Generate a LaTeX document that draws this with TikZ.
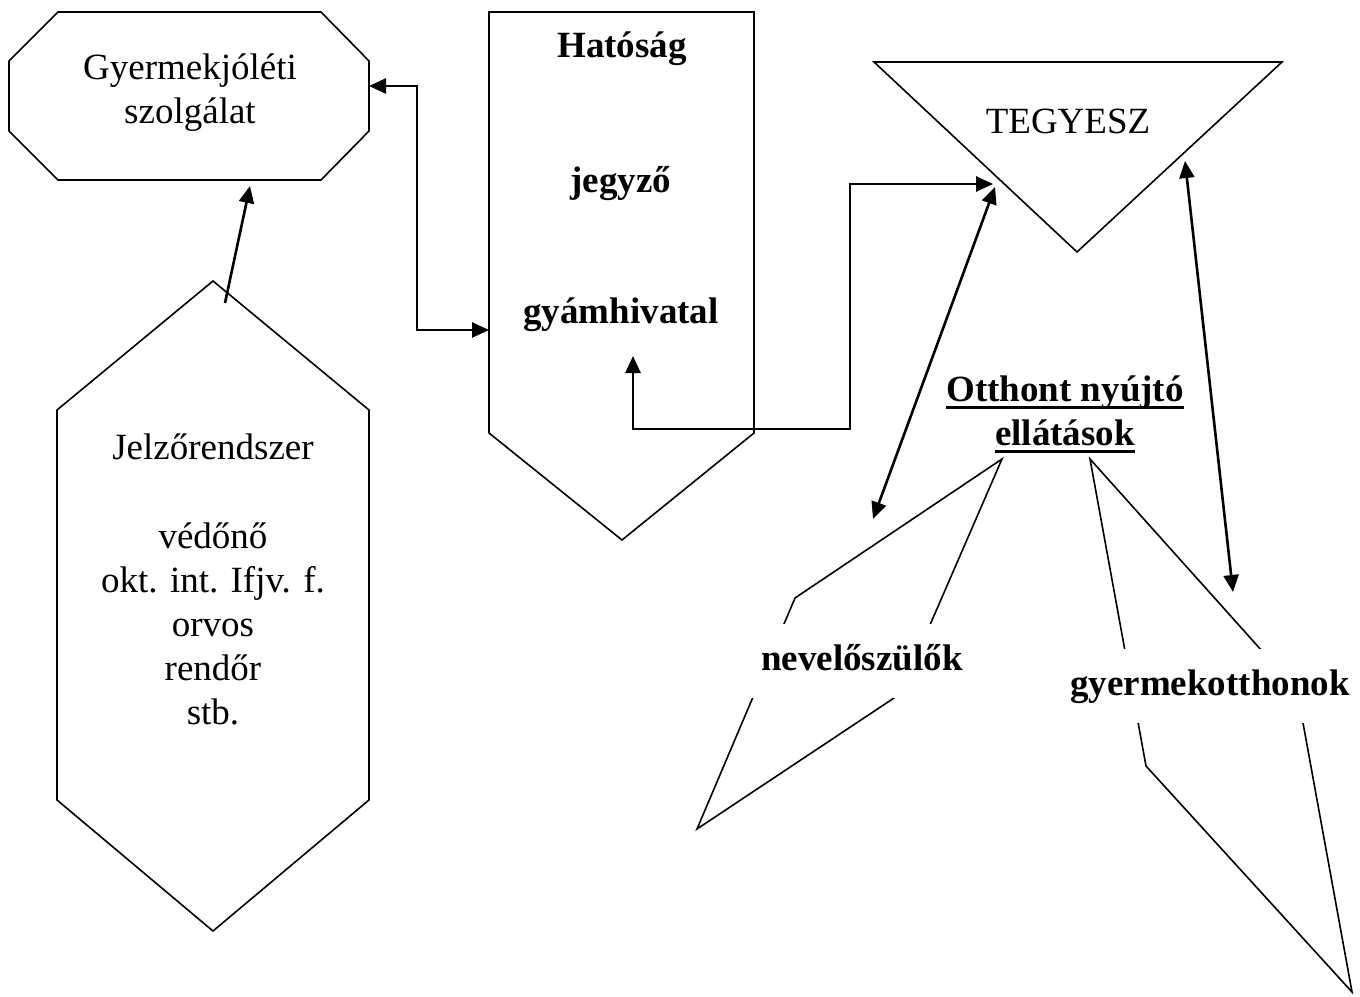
\documentclass[tikz,border=0pt]{standalone}
\usepackage{fontspec}
\setmainfont{Liberation Serif}
\usetikzlibrary{arrows.meta}

\newcommand{\ulbar}[1]{\setbox0\hbox{#1}\rlap{\rule[-8pt]{\wd0}{3pt}}\box0}

\begin{document}
\begin{tikzpicture}[x=1pt,y=-1pt,line join=miter]
    \tikzstyle{every node}=[font=\fontsize{37}{44}\selectfont,inner sep=0pt]
    \tikzstyle{outline}=[draw=black,line width=1.6pt]
    \tikzstyle{link}=[line width=2.6pt,-{Triangle[length=17pt,width=15pt]}]
    \tikzstyle{both link}=[link,{Triangle[length=17pt,width=15pt]}-{Triangle[length=17pt,width=15pt]}]
    \tikzstyle{title}=[font=\fontsize{37}{44}\selectfont\bfseries]
    \tikzstyle{cut label}=[title,fill=white,text height=46pt,text depth=28pt,inner xsep=12pt]

    \useasboundingbox (0,0) rectangle (1360,996);

    % Draw the outlines
    \draw[outline] (58,12) -- (321,12) -- (369,61) -- (369,131) -- (321,180)
        -- (58,180) -- (9,131) -- (9,61) -- cycle;
    \draw[outline] (489,12) -- (754,12) -- (754,433) -- (622,540) -- (489,433) -- cycle;
    \draw[outline] (874,62) -- (1282,62) -- (1077,252) -- cycle;
    \draw[outline] (213,281) -- (369,410) -- (369,800) -- (213,931) -- (57,800) -- (57,410) -- cycle;
    \draw[outline] (1002,459) -- (795,598) -- (697,829) -- (900,694) -- cycle;
    \draw[outline] (1090,459) -- (1146,766) -- (1352,992) -- (1297,690) -- cycle;

    % Texts (base of a multi-line node is its last line)
    \node[anchor=base,align=center] (gyj) at (190,123) {Gyermekjóléti\\szolgálat};
    \node[title,anchor=base] (hat) at (622,57) {Hatóság};
    \node[title,anchor=base] (jegy) at (621,192) {jegyző};
    \node[title,anchor=base] (gyam) at (621,323) {gyámhivatal};
    \node[anchor=base] (teg) at (1068,133) {TEGYESZ};
    \node[anchor=base,align=center] (jelz) at (213,724)
        {Jelzőrendszer\\[45pt]védőnő\\okt. int. Ifjv. f.\\orvos\\rendőr\\stb.};
    \node[title,anchor=base,align=center] (otth) at (1065,445)
        {\ulbar{Otthont nyújtó}\\\ulbar{ellátások}};
    \node[cut label,anchor=base] (nev) at (862,670) {nevelőszülők};
    \node[cut label,anchor=base] (gyo) at (1210,695) {gyermekotthonok};

    % Ends of the connectors
    \coordinate (jelz top) at (225,303);
    \coordinate (gyj bottom) at (250,186);
    \coordinate (gyj in) at (369,86);
    \coordinate (hat in) at (489,330);
    \coordinate (hat up) at (633,356);
    \coordinate (teg in) at (993,184);
    \coordinate (teg left) at (995,187);
    \coordinate (to nev) at (873,519);
    \coordinate (teg right) at (1185,161);
    \coordinate (to gyo) at (1233,592);

    % Connect the boxes
    \draw[link] (jelz top) -- (gyj bottom);
    \draw[both link] (gyj in) -- ++(48,0) |- (hat in);
    \draw[both link] (hat up) |- (850,429) |- (teg in);
    \draw[both link] (teg left) -- (to nev);
    \draw[both link] (teg right) -- (to gyo);
\end{tikzpicture}
\end{document}
